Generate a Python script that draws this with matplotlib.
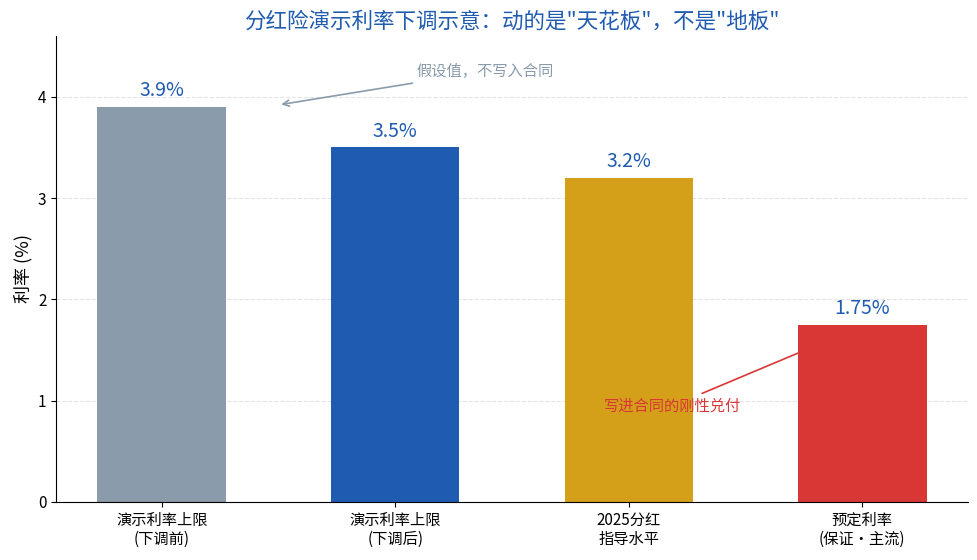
import matplotlib
matplotlib.use("Agg")
import matplotlib.pyplot as plt

plt.rcParams["font.family"] = ["Noto Sans CJK SC", "DejaVu Sans"]
plt.rcParams["axes.unicode_minus"] = False

categories = ["演示利率上限\n(下调前)", "演示利率上限\n(下调后)", "2025分红\n指导水平", "预定利率\n(保证・主流)"]
rates = [3.9, 3.5, 3.2, 1.75]
value_labels = ["3.9%", "3.5%", "3.2%", "1.75%"]
colors = ["#8a9bab", "#1f5bb0", "#d4a01a", "#d93636"]

fig = plt.figure(figsize=(9.78, 5.6), dpi=100)
ax = fig.add_axes([0.0573, 0.1036, 0.9325, 0.8321])

x = range(len(categories))
bars = ax.bar(x, rates, width=0.55, color=colors, zorder=2)
for b, lab in zip(bars, value_labels):
    ax.annotate(lab, (b.get_x() + b.get_width() / 2, b.get_height()),
                xytext=(0, 4), textcoords="offset points",
                ha="center", va="bottom", fontsize=14, color="#1f5bb0")

ax.set_xticks(list(x))
ax.set_xticklabels(categories, fontsize=11)
ax.set_ylim(0, 4.6)
ax.set_yticks([0, 1, 2, 3, 4])
ax.tick_params(axis="y", labelsize=11)
ax.set_ylabel("利率 (%)", fontsize=13)
ax.grid(axis="y", linestyle="--", color="#dddddd", alpha=0.8, zorder=0)
ax.spines["top"].set_visible(False)
ax.spines["right"].set_visible(False)

ax.set_title('分红险演示利率下调示意：动的是"天花板"，不是"地板"',
             fontsize=15.5, color="#1f5bb0", pad=6)

ax.annotate("假设值，不写入合同", xy=(0.50, 3.92), xytext=(1.09, 4.25),
            fontsize=11, color="#8a9bab", ha="left", va="center",
            arrowprops=dict(arrowstyle="->", color="#8a9bab", lw=1.2))
ax.annotate("写进合同的刚性兑付", xy=(2.735, 1.48), xytext=(2.188, 0.95),
            fontsize=11, color="#d93636", ha="center", va="center",
            arrowprops=dict(arrowstyle="-", color="#d93636", lw=1.2))

fig.savefig("out.png", dpi=100)
